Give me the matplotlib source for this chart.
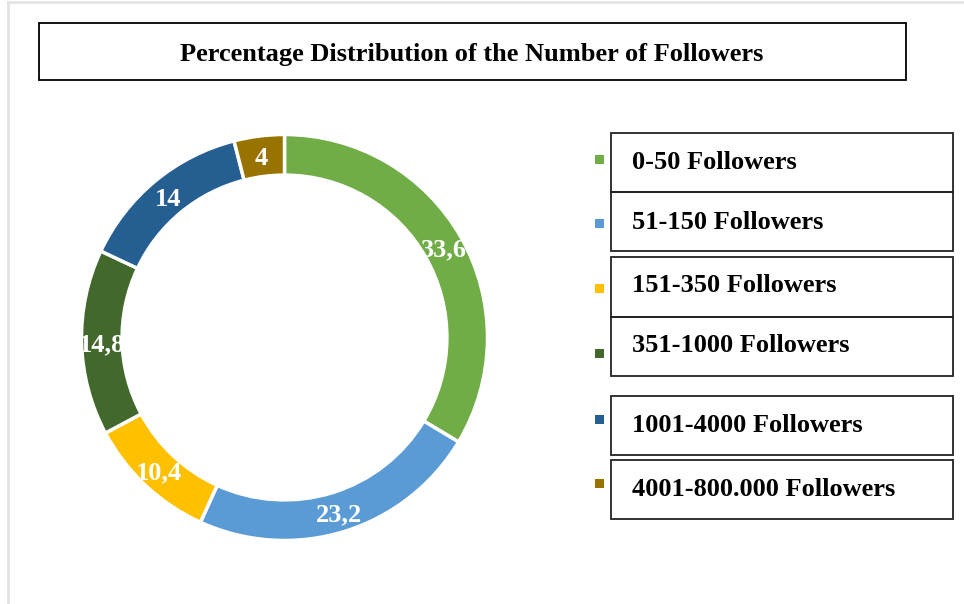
import matplotlib
matplotlib.use('Agg')
import matplotlib.pyplot as plt
from matplotlib.patches import Rectangle
import numpy as np

# data
categorias = ['0-50 Followers', '51-150 Followers', '151-350 Followers',
              '351-1000 Followers', '1001-4000 Followers', '4001-800.000 Followers']
valores = [33.6, 23.2, 10.4, 14.8, 14, 4]
rotulos = ['33,6', '23,2', '10,4', '14,8', '14', '4']
cores = ['#70AD47', '#5B9BD5', '#FFC000', '#43682B', '#255E91', '#997300']
titulo = 'Percentage Distribution of the Number of Followers'

plt.rcParams['font.family'] = ['Liberation Serif', 'DejaVu Serif']

W, H = 964, 604
fig = plt.figure(figsize=(W / 100, H / 100), dpi=100)
ax = fig.add_axes([0, 0, 1, 1])

# donut (coordenadas em pixels, y para cima)
cx, cy, r = 284.5, H - 337.5, 203
wedges, _ = ax.pie(valores, colors=cores, startangle=90, counterclock=False,
                   radius=r, center=(cx, cy),
                   wedgeprops=dict(width=r * 0.2, edgecolor='white', linewidth=2.5))
for w, txt in zip(wedges, rotulos):
    ang = np.deg2rad((w.theta1 + w.theta2) / 2)
    ax.text(cx + 0.9 * r * np.cos(ang), cy + 0.9 * r * np.sin(ang) - 2.5, txt,
            ha='center', va='center', color='white', fontsize=19, fontweight='bold')

ax.set_xlim(0, W)
ax.set_ylim(0, H)
ax.set_aspect('auto')
ax.axis('off')

# moldura cinza
ax.plot([8, 8], [0, H - 2], color='#e3e3e3', lw=2)
ax.plot([8, W], [H - 2, H - 2], color='#e3e3e3', lw=2)

# titulo
ax.add_patch(Rectangle((39, H - 80), 867, 57, fill=False, edgecolor='black', lw=1.3))
ax.text(472, H - 54, titulo, ha='center', va='center', fontsize=19, fontweight='bold')

# legenda com caixas
caixas = [(132.7, 191.7), (191.7, 250.7), (257.3, 316.7),
          (316.7, 375.7), (396, 455), (460, 519.3)]
texto_y = [162.5, 222.5, 286, 345.5, 425, 489]
marca_y = [159, 223, 288, 353, 419, 483]
for i in range(6):
    t, b = caixas[i]
    ax.add_patch(Rectangle((611, H - b), 342, b - t, fill=False, edgecolor='#222222', lw=1.3))
    ax.text(632, H - texto_y[i], categorias[i], ha='left', va='center',
            fontsize=19, fontweight='bold')
    ax.add_patch(Rectangle((595, H - marca_y[i] - 4.5), 9, 9, color=cores[i], lw=0))

plt.savefig('out.png', dpi=100)
